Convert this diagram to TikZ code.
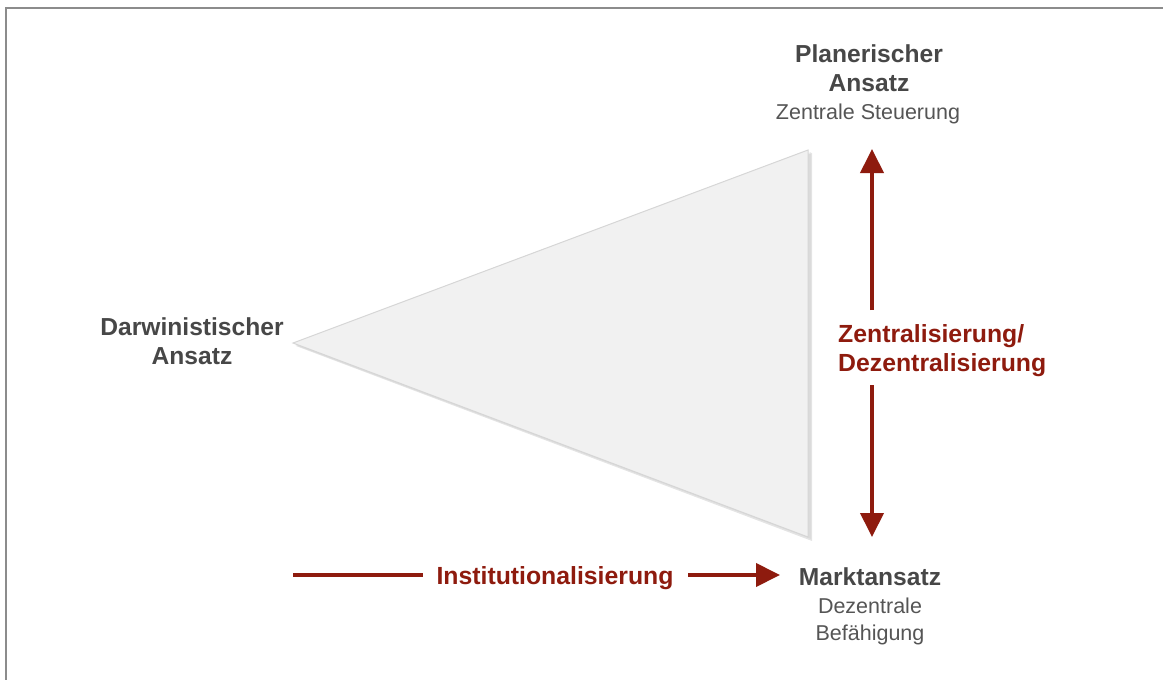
\documentclass[tikz,border=0pt]{standalone}
\usepackage{fontspec}
\setmainfont{Liberation Sans}
\usetikzlibrary{arrows.meta}
\definecolor{frame}{HTML}{8C8C8C}
\definecolor{darkred}{HTML}{8E1B0E}
\definecolor{txtgray}{HTML}{474747}
\definecolor{subgray}{HTML}{555555}
\definecolor{trifill}{HTML}{F1F1F1}
\definecolor{triedge}{HTML}{D6D6D6}
\tikzset{
  x=1pt, y=-1pt,
  title/.style={font=\fontsize{24.6}{29}\selectfont\bfseries, text=txtgray, align=center, inner sep=0pt, anchor=base},
  subtitle/.style={font=\fontsize{21.5}{27}\selectfont, text=subgray, align=center, inner sep=0pt, anchor=base},
  redlabel/.style={font=\fontsize{24.8}{29}\selectfont\bfseries, text=darkred, inner sep=0pt, anchor=base},
  redline/.style={draw=darkred, line width=4pt},
  redarrow/.style={redline, -{Triangle[width=23pt,length=24pt]}},
}
\begin{document}
\begin{tikzpicture}
\useasboundingbox (0,0) rectangle (1163,680);
% frame
\draw[frame, line width=2.5pt] (6,680) -- (6,8) -- (1163,8);
% triangle with soft shadow
\fill[black!30, opacity=0.35] (296,346) -- (812,153) -- (812,541) -- cycle;
\fill[black!20, opacity=0.35] (295,345) -- (811,152) -- (811,539) -- cycle;
\filldraw[fill=trifill, draw=triedge, line width=1pt] (293,343) -- (808,150) -- (808,537) -- cycle;
% texts (base anchor = baseline of the last line)
\node[title] (plan) at (869,91) {Planerischer\\Ansatz};
\node[subtitle] (plansub) at (868,119) {Zentrale Steuerung};
\node[title] (darwin) at (192,364) {Darwinistischer\\Ansatz};
\node[title] (markt) at (870,585) {Marktansatz};
\node[subtitle] (marktsub) at (870,640) {Dezentrale\\Bef\"ahigung};
\node[redlabel, align=left, anchor=base west] (zentral) at (838,371) {Zentralisierung/\\Dezentralisierung};
\node[redlabel] (inst) at (555,584) {Institutionalisierung};
% arrow end points
\coordinate (vtop) at (872,149);
\coordinate (vgapA) at (872,310);
\coordinate (vgapB) at (872,385);
\coordinate (vbot) at (872,537);
\coordinate (hstart) at (293,575);
\coordinate (hgapA) at (423,575);
\coordinate (hgapB) at (688,575);
\coordinate (hend) at (780,575);
% connectors
\draw[redarrow] (vgapA) -- (vtop);
\draw[redarrow] (vgapB) -- (vbot);
\draw[redline] (hstart) -- (hgapA);
\draw[redarrow] (hgapB) -- (hend);
\end{tikzpicture}
\end{document}
